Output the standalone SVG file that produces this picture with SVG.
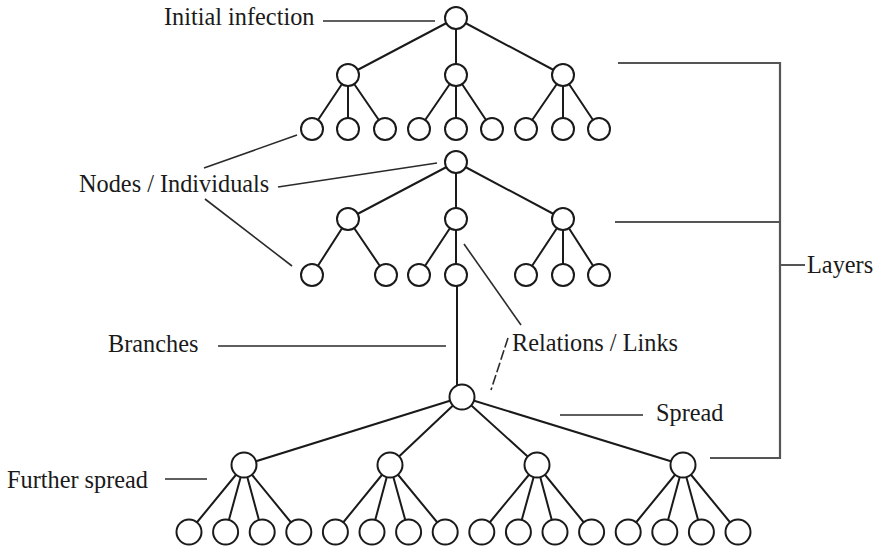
<svg xmlns="http://www.w3.org/2000/svg" width="882" height="553" viewBox="0 0 882 553">
  <style>
    .edge { stroke: #1a1a1a; stroke-width: 2; fill: none; stroke-linecap: round; }
    .pointer { stroke: #2a2a2a; stroke-width: 1.6; fill: none; }
    .dashed { stroke-dasharray: 10 3; }
    .bracket { stroke: #555; stroke-width: 2.2; fill: none; }
    .node circle { fill: #fff; stroke: #1a1a1a; stroke-width: 2; }
    .label { font-family: "Liberation Serif", "Times New Roman", serif; font-size: 24.3px; fill: #1a1a1a; }
  </style>
  <rect width="882" height="553" fill="#fff"/>

  <!-- tree edges (center to center; circles are drawn on top) -->
  <g id="connectors" class="edge">
    <!-- first layer -->
    <line x1="456" y1="18" x2="348" y2="75"/>
    <line x1="456" y1="18" x2="456" y2="75"/>
    <line x1="456" y1="18" x2="563" y2="75"/>
    <line x1="348" y1="75" x2="312" y2="129"/>
    <line x1="348" y1="75" x2="348" y2="129"/>
    <line x1="348" y1="75" x2="385" y2="129"/>
    <line x1="456" y1="75" x2="419" y2="129"/>
    <line x1="456" y1="75" x2="456" y2="129"/>
    <line x1="456" y1="75" x2="492" y2="129"/>
    <line x1="563" y1="75" x2="526" y2="129"/>
    <line x1="563" y1="75" x2="563" y2="129"/>
    <line x1="563" y1="75" x2="599" y2="129"/>
    <!-- second layer -->
    <line x1="456" y1="162" x2="348" y2="219"/>
    <line x1="456" y1="162" x2="456" y2="219"/>
    <line x1="456" y1="162" x2="563" y2="219"/>
    <line x1="348" y1="219" x2="312" y2="275"/>
    <line x1="348" y1="219" x2="386" y2="275"/>
    <line x1="456" y1="219" x2="419" y2="275"/>
    <line x1="456" y1="219" x2="456" y2="275"/>
    <line x1="563" y1="219" x2="526" y2="275"/>
    <line x1="563" y1="219" x2="563" y2="275"/>
    <line x1="563" y1="219" x2="599" y2="275"/>
    <!-- branch down to the third layer -->
    <line x1="457" y1="275" x2="457" y2="388"/>
    <!-- third layer -->
    <line x1="462" y1="397" x2="244" y2="465"/>
    <line x1="462" y1="397" x2="390" y2="465"/>
    <line x1="462" y1="397" x2="537" y2="465"/>
    <line x1="462" y1="397" x2="683" y2="465"/>
    <line x1="244" y1="465" x2="189" y2="532"/>
    <line x1="244" y1="465" x2="225.6" y2="532"/>
    <line x1="244" y1="465" x2="262.2" y2="532"/>
    <line x1="244" y1="465" x2="298.8" y2="532"/>
    <line x1="390" y1="465" x2="335.4" y2="532"/>
    <line x1="390" y1="465" x2="372" y2="532"/>
    <line x1="390" y1="465" x2="408.6" y2="532"/>
    <line x1="390" y1="465" x2="445.2" y2="532"/>
    <line x1="537" y1="465" x2="481.8" y2="532"/>
    <line x1="537" y1="465" x2="518.4" y2="532"/>
    <line x1="537" y1="465" x2="555" y2="532"/>
    <line x1="537" y1="465" x2="591.6" y2="532"/>
    <line x1="683" y1="465" x2="628.2" y2="532"/>
    <line x1="683" y1="465" x2="664.8" y2="532"/>
    <line x1="683" y1="465" x2="701.4" y2="532"/>
    <line x1="683" y1="465" x2="738" y2="532"/>
  </g>

  <!-- nodes -->
  <g id="layer1" class="node">
    <circle id="n-root1" cx="456" cy="18" r="11"/>
    <circle cx="348" cy="75" r="11"/>
    <circle cx="456" cy="75" r="11"/>
    <circle cx="563" cy="75" r="11"/>
    <circle cx="312" cy="129" r="11"/>
    <circle cx="348" cy="129" r="11"/>
    <circle cx="385" cy="129" r="11"/>
    <circle cx="419" cy="129" r="11"/>
    <circle cx="456" cy="129" r="11"/>
    <circle cx="492" cy="129" r="11"/>
    <circle cx="526" cy="129" r="11"/>
    <circle cx="563" cy="129" r="11"/>
    <circle cx="599" cy="129" r="11"/>
  </g>
  <g id="layer2" class="node">
    <circle id="n-root2" cx="456" cy="162" r="11"/>
    <circle cx="348" cy="219" r="11"/>
    <circle cx="456" cy="219" r="11"/>
    <circle cx="563" cy="219" r="11"/>
    <circle cx="312" cy="275" r="11"/>
    <circle cx="386" cy="275" r="11"/>
    <circle cx="419" cy="275" r="11"/>
    <circle cx="456" cy="275" r="11"/>
    <circle cx="526" cy="275" r="11"/>
    <circle cx="563" cy="275" r="11"/>
    <circle cx="599" cy="275" r="11"/>
  </g>
  <g id="layer3" class="node">
    <circle id="n-root3" cx="462" cy="397" r="12.5"/>
    <circle cx="244" cy="465" r="12.5"/>
    <circle cx="390" cy="465" r="12.5"/>
    <circle cx="537" cy="465" r="12.5"/>
    <circle cx="683" cy="465" r="12.5"/>
    <circle cx="189" cy="532" r="12.5"/>
    <circle cx="225.6" cy="532" r="12.5"/>
    <circle cx="262.2" cy="532" r="12.5"/>
    <circle cx="298.8" cy="532" r="12.5"/>
    <circle cx="335.4" cy="532" r="12.5"/>
    <circle cx="372" cy="532" r="12.5"/>
    <circle cx="408.6" cy="532" r="12.5"/>
    <circle cx="445.2" cy="532" r="12.5"/>
    <circle cx="481.8" cy="532" r="12.5"/>
    <circle cx="518.4" cy="532" r="12.5"/>
    <circle cx="555" cy="532" r="12.5"/>
    <circle cx="591.6" cy="532" r="12.5"/>
    <circle cx="628.2" cy="532" r="12.5"/>
    <circle cx="664.8" cy="532" r="12.5"/>
    <circle cx="701.4" cy="532" r="12.5"/>
    <circle cx="738" cy="532" r="12.5"/>
  </g>

  <!-- annotation labels with their leader lines -->
  <g id="label-initial">
    <text class="label" x="164" y="25">Initial infection</text>
    <line class="pointer" x1="323" y1="21" x2="435" y2="21"/>
  </g>
  <g id="label-nodes">
    <text class="label" x="79" y="192">Nodes / Individuals</text>
    <line class="pointer" x1="204" y1="168" x2="297" y2="135"/>
    <line class="pointer" x1="278" y1="187" x2="437" y2="163"/>
    <line class="pointer" x1="205" y1="199" x2="292" y2="266"/>
  </g>
  <g id="label-branches">
    <text class="label" x="108" y="352">Branches</text>
    <line class="pointer" x1="218" y1="346" x2="446" y2="346"/>
  </g>
  <g id="label-relations">
    <text class="label" x="512" y="351">Relations / Links</text>
    <line class="pointer" x1="464" y1="244" x2="521" y2="325"/>
    <line class="pointer dashed" x1="508" y1="338" x2="491" y2="390"/>
  </g>
  <g id="label-spread">
    <text class="label" x="656" y="421">Spread</text>
    <line class="pointer" x1="560" y1="415" x2="643" y2="415"/>
  </g>
  <g id="label-further">
    <text class="label" x="7" y="488">Further spread</text>
    <line class="pointer" x1="165" y1="479" x2="207" y2="479"/>
  </g>
  <g id="label-layers">
    <path class="bracket" d="M618 63 H780 V458 H710 M615 222 H780 M780 265 H805"/>
    <text class="label" x="807" y="273">Layers</text>
  </g>
</svg>
